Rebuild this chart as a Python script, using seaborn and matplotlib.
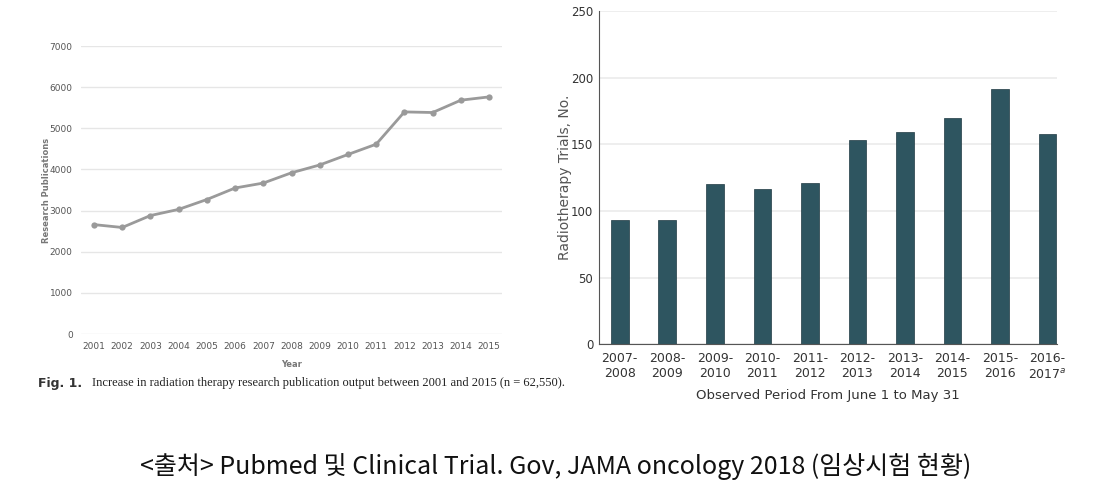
import numpy as np
import pandas as pd
import matplotlib
matplotlib.use("Agg")
import matplotlib.pyplot as plt
import seaborn as sns

# left chart: research publications per year
years = [2001, 2002, 2003, 2004, 2005, 2006, 2007, 2008, 2009, 2010, 2011, 2012, 2013, 2014, 2015]
publications = [2660, 2590, 2880, 3030, 3270, 3550, 3670, 3920, 4110, 4365, 4615, 5400, 5385, 5685, 5765]

# right chart: radiotherapy trials per period
periods = ["2007-\n2008", "2008-\n2009", "2009-\n2010", "2010-\n2011", "2011-\n2012",
           "2012-\n2013", "2013-\n2014", "2014-\n2015", "2015-\n2016", "2016-\n2017$^{a}$"]
trials = [93, 93, 120, 116.5, 121, 153, 159.5, 169.5, 192, 158]

sns.set_style("white")
plt.rcParams['font.family'] = ['DejaVu Sans', 'Noto Sans CJK KR']

fig = plt.figure(figsize=(11.11, 4.93), dpi=100)

# ---- left
ax1 = fig.add_axes([0.0729, 0.3225, 0.379, 0.584])
df1 = pd.DataFrame({"year": years, "pubs": publications})
sns.lineplot(data=df1, x="year", y="pubs", ax=ax1, color="#9a9a9a", linewidth=2,
             marker="o", markersize=4.5, markeredgewidth=0)
ax1.set_xlim(2001 - 0.46, 2015 + 0.46)
ax1.set_ylim(0, 7000)
ax1.set_yticks(range(0, 7001, 1000))
ax1.set_xticks(years)
ax1.grid(axis="y", color="#e6e6e6", linewidth=1)
ax1.set_axisbelow(True)
for s in ax1.spines.values():
    s.set_visible(False)
ax1.tick_params(axis="both", length=0, labelsize=6.5, labelcolor="#555555", pad=6)
ax1.set_xlabel("Year", fontsize=6, fontweight="bold", color="#777777", labelpad=6)
ax1.set_ylabel("Research Publications", fontsize=6, fontweight="bold", color="#777777")
ax1.yaxis.set_label_coords(-0.072, 0.5)

fig.text(0.034, 0.223, "Fig. 1.", fontsize=9, fontweight="bold", color="#333333", va="center")
fig.text(0.083, 0.223, "Increase in radiation therapy research publication output between 2001 and 2015 (n = 62,550).",
         fontsize=9, family="Liberation Serif", color="#222222", va="center")

# ---- right
ax2 = fig.add_axes([0.539, 0.302, 0.412, 0.675])
df2 = pd.DataFrame({"period": periods, "trials": trials})
sns.barplot(data=df2, x="period", y="trials", ax=ax2, color="#2e5560", width=0.37,
            saturation=1, edgecolor="#1f3a42", linewidth=0.5)
ax2.set_xlim(-0.44, 9.19)
ax2.set_ylim(0, 250)
ax2.set_yticks(range(0, 251, 50))
ax2.grid(axis="y", color="#ebebeb", linewidth=1.2)
ax2.set_axisbelow(True)
ax2.spines["top"].set_visible(False)
ax2.spines["right"].set_visible(False)
ax2.spines["left"].set_color("#555555")
ax2.spines["bottom"].set_color("#555555")
ax2.tick_params(axis="y", length=3, color="#555555", labelsize=8.5, labelcolor="#333333", pad=1)
ax2.tick_params(axis="x", length=0, labelsize=9, labelcolor="#333333", pad=6)
ax2.set_xlabel("Observed Period From June 1 to May 31", fontsize=9.5, color="#333333", labelpad=5)
ax2.set_ylabel("Radiotherapy Trials, No.", fontsize=10, color="#555555")
ax2.yaxis.set_label_coords(-0.058, 0.5)

# source line
fig.text(0.5, 0.053, "<출처> Pubmed 및 Clinical Trial. Gov, JAMA oncology 2018 (임상시험 현황)",
         fontsize=18, family=["Noto Sans CJK KR", "DejaVu Sans"], color="#111111",
         ha="center", va="center")

fig.savefig("out.png", dpi=100)
